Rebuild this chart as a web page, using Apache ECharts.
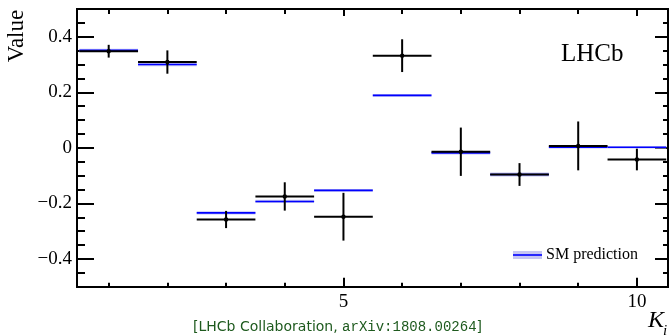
<!DOCTYPE html>
<html>
<head>
<meta charset="utf-8">
<script src="https://cdn.jsdelivr.net/npm/echarts@6/dist/echarts.min.js"></script>
<style>html,body{margin:0;padding:0;background:#fff}#c{width:672px;height:336px}</style>
</head>
<body>
<div id="c"></div>
<script>
// ---- data ----
const ki = [1, 2, 3, 4, 5, 6, 7, 8, 9, 10];
const binHalfWidth = 0.5;
const dataValues = [0.348, 0.309, -0.258, -0.175, -0.248, 0.332, -0.014, -0.096, 0.007, -0.042];
const dataErrors = [0.023, 0.042, 0.031, 0.051, 0.086, 0.059, 0.087, 0.041, 0.088, 0.039];
const smValues = [0.351, 0.300, -0.234, -0.193, -0.153, 0.189, -0.018, -0.096, 0.002, 0.002];
const smErrors = [0.006, 0.006, 0.006, 0.006, 0.005, 0.005, 0.006, 0.007, 0.004, 0.004];
const xMajorTicks = [5, 10];
const xMinorTicks = [1, 2, 3, 4, 6, 7, 8, 9];
const yMajorTicks = [-0.4, -0.2, 0, 0.2, 0.4];
const yMinorTicks = [-0.45, -0.35, -0.3, -0.25, -0.15, -0.1, -0.05, 0.05, 0.1, 0.15, 0.25, 0.3, 0.35, 0.45];

const serif = 'Liberation Serif';
const chart = echarts.init(document.getElementById('c'), null, {renderer: 'canvas'});

const dataRows = ki.map((k, i) => [k, dataValues[i], dataErrors[i]]);
const smRows = ki.map((k, i) => [k, smValues[i], smErrors[i]]);

function xAx(pos, ticks, len, labels) {
  return {
    type: 'value', position: pos, min: 0.46, max: 10.53,
    axisLine: {show: true, onZero: false, lineStyle: {color: '#000', width: 2}},
    axisTick: {show: true, inside: true, length: len, customValues: ticks, lineStyle: {color: '#000', width: 2}},
    axisLabel: labels ? {show: true, customValues: ticks, margin: 6, fontFamily: serif, fontSize: 19, color: '#000'} : {show: false},
    splitLine: {show: false}
  };
}
function yAx(pos, ticks, len, labels) {
  return {
    type: 'value', position: pos, min: -0.5, max: 0.5,
    axisLine: {show: true, onZero: false, lineStyle: {color: '#000', width: 2}},
    axisTick: {show: true, inside: true, length: len, customValues: ticks, lineStyle: {color: '#000', width: 2}},
    axisLabel: labels ? {show: true, customValues: ticks, margin: 5, fontFamily: serif, fontSize: 19, color: '#000',
      formatter: v => v === 0 ? '0' : (v < 0 ? '\u2212' : '') + Math.abs(v).toFixed(1)} : {show: false},
    splitLine: {show: false}
  };
}

chart.setOption({
  animation: false,
  grid: {left: 77, top: 9, width: 591, height: 277.7, containLabel: false},
  xAxis: [
    xAx('bottom', xMajorTicks, 9, true),
    xAx('bottom', xMinorTicks, 4, false),
    xAx('top', xMajorTicks, 7, false),
    xAx('top', xMinorTicks, 5, false)
  ],
  yAxis: [
    yAx('left', yMajorTicks, 17, true),
    yAx('left', yMinorTicks, 8, false),
    yAx('right', yMajorTicks, 13, false),
    yAx('right', yMinorTicks, 5, false)
  ],
  series: [
    {
      type: 'custom', name: 'SM prediction', xAxisIndex: 0, yAxisIndex: 0,
      data: smRows, z: 2,
      renderItem: (params, api) => {
        const x = api.value(0), y = api.value(1), e = api.value(2);
        const p1 = api.coord([x - binHalfWidth, y + e]);
        const p2 = api.coord([x + binHalfWidth, y - e]);
        const l1 = api.coord([x - binHalfWidth, y]);
        const l2 = api.coord([x + binHalfWidth, y]);
        return {type: 'group', children: [
          {type: 'rect', shape: {x: p1[0], y: p1[1], width: p2[0] - p1[0], height: p2[1] - p1[1]}, style: {fill: '#c6c6f2'}},
          {type: 'line', shape: {x1: l1[0], y1: l1[1], x2: l2[0], y2: l2[1]}, style: {stroke: '#0000ff', lineWidth: 1.6}}
        ]};
      }
    },
    {
      type: 'custom', name: 'Data', xAxisIndex: 0, yAxisIndex: 0,
      data: dataRows, z: 3,
      renderItem: (params, api) => {
        const x = api.value(0), y = api.value(1), e = api.value(2);
        const a = api.coord([x - binHalfWidth, y]);
        const b = api.coord([x + binHalfWidth, y]);
        const t = api.coord([x, y + e]);
        const d = api.coord([x, y - e]);
        return {type: 'group', children: [
          {type: 'line', shape: {x1: a[0], y1: a[1], x2: b[0], y2: b[1]}, style: {stroke: '#000', lineWidth: 2}},
          {type: 'line', shape: {x1: t[0], y1: t[1], x2: d[0], y2: d[1]}, style: {stroke: '#000', lineWidth: 2}},
          {type: 'circle', shape: {cx: a[0] + (b[0] - a[0]) / 2, cy: a[1], r: 2.2}, style: {fill: '#000'}}
        ]};
      }
    }
  ],
  graphic: [
    {type: 'text', x: 17, y: 36, rotation: Math.PI / 2, style: {text: 'Value', font: '23px "Liberation Serif"', fill: '#000', align: 'center', verticalAlign: 'middle'}},
    {type: 'text', x: 561, y: 54, style: {text: 'LHCb', font: '25px "Liberation Serif"', fill: '#000', align: 'left', verticalAlign: 'middle'}},
    {type: 'rect', shape: {x: 513, y: 251, width: 29, height: 8}, style: {fill: '#c6c6f2'}},
    {type: 'line', shape: {x1: 513, y1: 255, x2: 542, y2: 255}, style: {stroke: '#0000ff', lineWidth: 1.6}},
    {type: 'text', x: 546, y: 255, style: {text: 'SM prediction', font: '16px "Liberation Serif"', fill: '#000', align: 'left', verticalAlign: 'middle'}},
    {type: 'text', x: 648, y: 321, style: {text: 'K', font: 'italic 24px "Liberation Serif"', fill: '#000', align: 'left', verticalAlign: 'middle'}},
    {type: 'text', x: 663, y: 331, style: {text: 'i', font: 'italic 15px "Liberation Serif"', fill: '#000', align: 'left', verticalAlign: 'middle'}},
    {type: 'text', x: 193, y: 327, style: {
      text: '{a|[LHCb Collaboration, }{b|arXiv:1808.00264}{a|]}',
      verticalAlign: 'middle', align: 'left',
      rich: {
        a: {fontFamily: 'DejaVu Sans', fontSize: 14, fill: '#1e5a1e'},
        b: {fontFamily: 'Liberation Mono', fontSize: 14, fill: '#1e5a1e'}
      }
    }}
  ]
});
</script>
</body>
</html>
